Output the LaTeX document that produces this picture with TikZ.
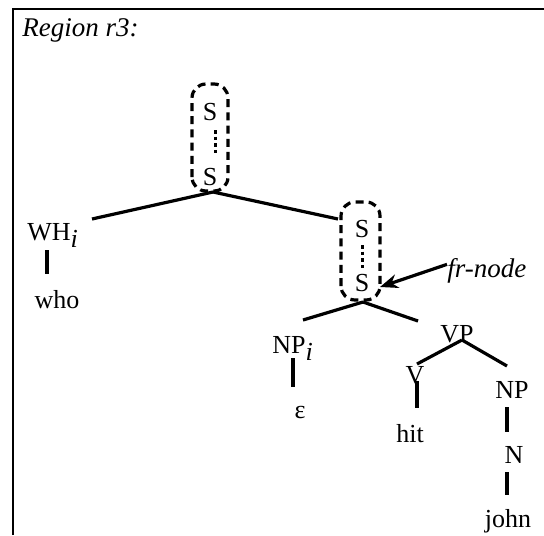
\documentclass[tikz,border=0pt]{standalone}
\usepackage{fontspec}
\setmainfont{Liberation Serif}
\usetikzlibrary{arrows.meta}
\begin{document}
\begin{tikzpicture}[x=0.5pt,y=-0.5pt,
  lbl/.style={font=\fontsize{13}{15}\selectfont, inner sep=0pt},
  ital/.style={font=\fontsize{13.5}{15}\selectfont\itshape, inner sep=0pt},
  branch/.style={line width=1.6pt},
  foot/.style={dash pattern=on 4pt off 2.6pt, line width=1.6pt, rounded corners=7pt},
  chain/.style={dash pattern=on 1.8pt off 1.5pt, line width=1.5pt},
  pointer/.style={line width=1.6pt, -{Stealth[length=9pt,width=7pt]}},
  frame/.style={line width=1.4pt}]
\useasboundingbox (0,0) rectangle (544,535);
% frame
\coordinate (fbl) at (13,535);
\coordinate (ftl) at (13,9);
\coordinate (ftr) at (544,9);
\draw[frame] (fbl) -- (ftl) -- (ftr);
\node[ital, anchor=base west] (title) at (22,37) {Region r3:};

% upper S chain
\node[lbl, anchor=base] (s1) at (210,120) {S};
\node[lbl, anchor=base] (s2) at (210,185) {S};
\draw[chain] (215,130) coordinate (c1a) -- (215,154) coordinate (c1b);
\draw[foot] (192,191) rectangle (228,84);
\coordinate (j1) at (213,192);
\coordinate (e1l) at (92,219);
\coordinate (e1r) at (338,219);
\draw[branch] (j1) -- (e1l);
\draw[branch] (j1) -- (e1r);

% WH
\node[lbl, anchor=base west] (wh) at (27,240) {WH\raisebox{-0.3em}{\textit{i}}};
\coordinate (wht) at (47,250);
\coordinate (whb) at (47,274);
\draw[branch] (wht) -- (whb);
\node[lbl, anchor=base] (who) at (57,308) {who};

% lower S chain
\node[lbl, anchor=base] (s3) at (362,237) {S};
\node[lbl, anchor=base] (s4) at (362,291) {S};
\draw[chain] (362,245) coordinate (c2a) -- (362,270) coordinate (c2b);
\draw[foot] (341,300) rectangle (380,202);
\node[ital, anchor=base west] (fr) at (447,277) {fr-node};
\coordinate (frtip) at (380,287);
\draw[pointer] (fr.west) ++(0,-6) coordinate (frs) (frs) -- (frtip);

\coordinate (j2) at (363,302);
\coordinate (e2l) at (303,320);
\coordinate (e2r) at (418,321);
\draw[branch] (j2) -- (e2l);
\draw[branch] (j2) -- (e2r);

% NP_i
\node[lbl, anchor=base west] (npi) at (272,353) {NP\raisebox{-0.3em}{\textit{i}}};
\coordinate (npit) at (293,358);
\coordinate (npib) at (293,387);
\draw[branch] (npit) -- (npib);
\node[lbl, anchor=base] (eps) at (300,418) {ε};

% VP
\node[lbl, anchor=base] (vp) at (457,342) {VP};
\coordinate (j3) at (462,340);
\coordinate (e3l) at (417,364);
\coordinate (e3r) at (507,366);
\draw[branch] (j3) -- (e3l);
\draw[branch] (j3) -- (e3r);

\node[lbl, anchor=base] (v) at (415,383) {V};
\coordinate (vt) at (417,381);
\coordinate (vb) at (417,408);
\draw[branch] (vt) -- (vb);
\node[lbl, anchor=base] (hit) at (410,442) {hit};

\node[lbl, anchor=base] (np) at (512,398) {NP};
\coordinate (npt) at (507,407);
\coordinate (npb) at (507,432);
\draw[branch] (npt) -- (npb);
\node[lbl, anchor=base] (n) at (514,463) {N};
\coordinate (nt) at (507,472);
\coordinate (nb) at (507,495);
\draw[branch] (nt) -- (nb);
\node[lbl, anchor=base] (john) at (508,527) {john};
\end{tikzpicture}
\end{document}
